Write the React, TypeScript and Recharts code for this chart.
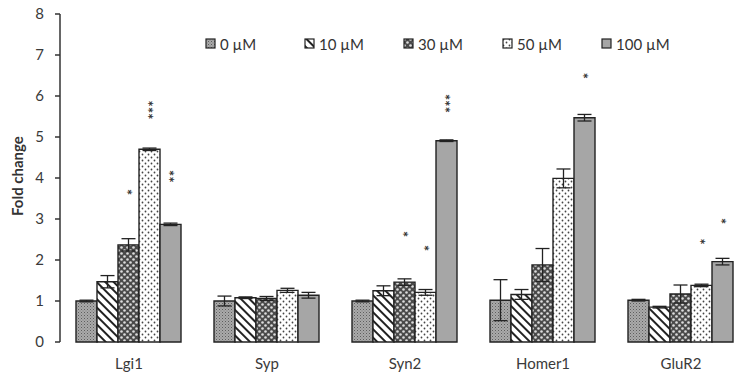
import React from "react";
import { BarChart, Bar, XAxis, YAxis, ErrorBar, LabelList } from "recharts";

const categories = ["Lgi1", "Syp", "Syn2", "Homer1", "GluR2"];
const doses = ["0 µM", "10 µM", "30 µM", "50 µM", "100 µM"];
const yTicks = [0, 1, 2, 3, 4, 5, 6, 7, 8];

const v0 = [1.0, 1.0, 1.0, 1.02, 1.02];
const e0 = [0.02, 0.12, 0.02, 0.5, 0.02];
const v10 = [1.47, 1.08, 1.25, 1.16, 0.85];
const e10 = [0.15, 0.02, 0.12, 0.12, 0.02];
const v30 = [2.37, 1.06, 1.46, 1.88, 1.17];
const e30 = [0.15, 0.05, 0.08, 0.4, 0.22];
const v50 = [4.7, 1.26, 1.21, 3.99, 1.38];
const e50 = [0.03, 0.05, 0.07, 0.23, 0.03];
const v100 = [2.87, 1.14, 4.91, 5.47, 1.96];
const e100 = [0.03, 0.07, 0.02, 0.08, 0.08];

// significance marks and where they sit (in fold-change units)
const s30 = ["*", "", "*", "", ""];
const s30Pos = [3.66, 0, 2.63, 0, 0];
const s50 = ["***", "", "*", "", "*"];
const s50Pos = [5.66, 0, 2.29, 0, 2.45];
const s100 = ["**", "", "***", "*", "*"];
const s100Pos = [4.04, 0, 5.82, 6.49, 2.95];

const data = categories.map((name, i) => ({
  name,
  v0: v0[i], e0: e0[i],
  v10: v10[i], e10: e10[i],
  v30: v30[i], e30: e30[i],
  v50: v50[i], e50: e50[i],
  v100: v100[i], e100: e100[i],
  s30: s30[i], s50: s50[i], s100: s100[i],
}));

const font = "Lato, 'Open Sans', sans-serif";
const fills = ["url(#p0)", "url(#p10)", "url(#p30)", "url(#p50)", "#a6a6a6"];

const Patterns = ({ pre }: { pre: string }) => (
  <defs>
    <pattern id={`${pre}p0`} width="3" height="3" patternUnits="userSpaceOnUse">
      <rect width="3" height="3" fill="#aaa" />
      <rect x="0" y="0" width="1" height="1" fill="#5e5e5e" />
      <rect x="1.5" y="1.5" width="1" height="1" fill="#7a7a7a" />
    </pattern>
    <pattern id={`${pre}p10`} width="6" height="6" patternUnits="userSpaceOnUse" patternTransform="rotate(-45)">
      <rect width="6" height="6" fill="#fff" />
      <rect x="0" y="0" width="2" height="6" fill="#222" />
    </pattern>
    <pattern id={`${pre}p30`} width="6" height="6" patternUnits="userSpaceOnUse">
      <rect width="6" height="6" fill="#4a4a4a" />
      <circle cx="1.5" cy="1.5" r="1.3" fill="#ddd" />
      <circle cx="4.5" cy="4.5" r="1.3" fill="#ddd" />
    </pattern>
    <pattern id={`${pre}p50`} width="6" height="6" patternUnits="userSpaceOnUse">
      <rect width="6" height="6" fill="#fff" />
      <circle cx="1.5" cy="1.5" r="0.9" fill="#444" />
      <circle cx="4.5" cy="4.5" r="0.9" fill="#444" />
    </pattern>
  </defs>
);

const starLabel = (vals: number[], pos: number[]) => (props: any) => {
  const { x, y, width, height, value, index } = props;
  if (!value) return null;
  const v = vals[index];
  const cx = x + width / 2;
  const cy = y + height - (pos[index] * height) / v;
  return (
    <text
      x={cx}
      y={cy}
      dy="0.62em"
      textAnchor="middle"
      transform={`rotate(-90 ${cx} ${cy})`}
      fontSize={15}
      fontWeight={700}
      fontFamily={font}
      fill="#333"
    >
      {value}
    </text>
  );
};

export default function App() {
  return (
    <div style={{ position: "absolute", left: 0, top: 0, width: 750, height: 383, background: "#fff" }}>
      <BarChart
        width={750}
        height={383}
        data={data}
        margin={{ top: 14, right: 0, bottom: 0, left: 0 }}
        barCategoryGap={16}
        barGap={0}
      >
        <Patterns pre="" />
        <XAxis
          xAxisId="b"
          type="number"
          domain={[0, 5]}
          ticks={[0, 1, 2, 3, 4, 5]}
          height={0}
          tick={false}
          tickSize={5}
          stroke="#333"
          strokeWidth={1.5}
        />
        <XAxis
          dataKey="name"
          height={41}
          axisLine={false}
          tickLine={false}
          tick={{ fill: "#3a3a3a", fontSize: 15, fontFamily: font }}
          tickMargin={10}
        />
        <YAxis
          domain={[0, 8]}
          ticks={yTicks}
          width={60}
          stroke="#333"
          strokeWidth={1.5}
          tickSize={5}
          tickMargin={11}
          tick={{ fill: "#3a3a3a", fontSize: 15, fontFamily: font }}
          label={{
            value: "Fold change",
            angle: -90,
            position: "insideLeft",
            offset: 18,
            dy: 38,
            style: { fill: "#333", fontSize: 15, fontWeight: 700, fontFamily: font },
          }}
        />
        {(["0", "10", "30", "50", "100"] as const).map((d, i) => (
          <Bar
            key={d}
            dataKey={`v${d}`}
            fill={fills[i]}
            stroke="#222"
            strokeWidth={1.4}
            isAnimationActive={false}
          >
            <ErrorBar dataKey={`e${d}`} width={7} stroke="#222" strokeWidth={1.3} direction="y" />
            {d === "30" && <LabelList dataKey="s30" content={starLabel(v30, s30Pos)} />}
            {d === "50" && <LabelList dataKey="s50" content={starLabel(v50, s50Pos)} />}
            {d === "100" && <LabelList dataKey="s100" content={starLabel(v100, s100Pos)} />}
          </Bar>
        ))}
      </BarChart>
      <div
        style={{
          position: "absolute",
          left: 205,
          top: 35,
          display: "flex",
          fontFamily: font,
          fontSize: 15,
          color: "#333",
        }}
      >
        {doses.map((d, i) => (
          <div key={d} style={{ width: 99, display: "flex", alignItems: "center" }}>
            <svg width={12} height={12} style={{ marginRight: 3 }}>
              <Patterns pre={`lg${i}`} />
              <rect
                x={1}
                y={1}
                width={9}
                height={9}
                fill={fills[i].startsWith("#") ? fills[i] : fills[i].replace("#", `#lg${i}`)}
                stroke="#222"
                strokeWidth={1.2}
              />
            </svg>
            <span>{d}</span>
          </div>
        ))}
      </div>
    </div>
  );
}
